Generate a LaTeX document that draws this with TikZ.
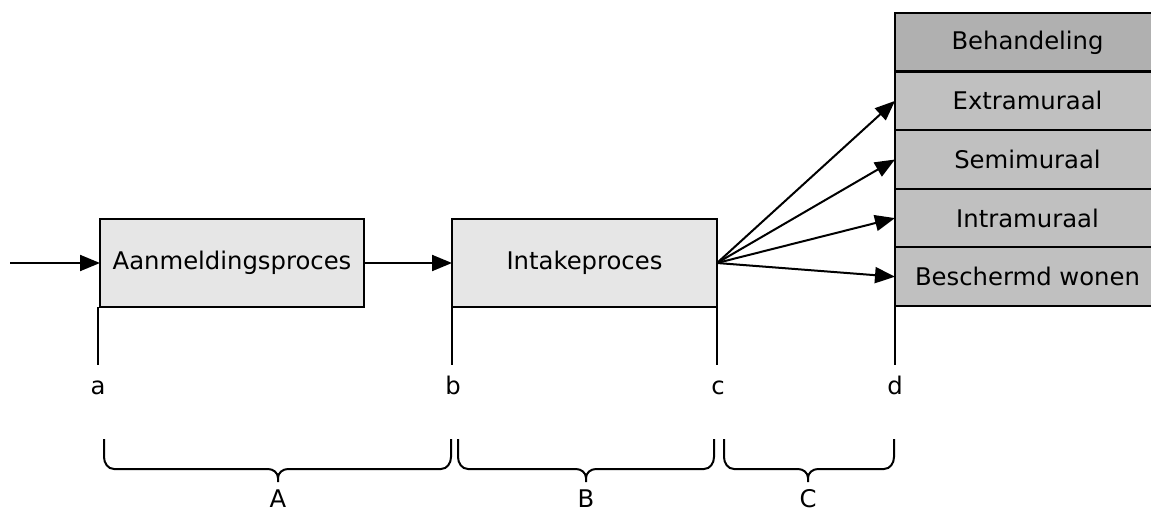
\documentclass[tikz,border=0pt]{standalone}
\usepackage{fontspec}
\setmainfont{DejaVu Sans}
\usetikzlibrary{arrows.meta}
\definecolor{procfill}{HTML}{E6E6E6}
\definecolor{optfill}{HTML}{C0C0C0}
\definecolor{headfill}{HTML}{B0B0B0}
\tikzset{
  procbox/.style={draw=black, line width=2pt, fill=procfill, inner sep=0pt, outer sep=0pt,
    minimum height=88pt, font=\fontsize{24.3}{29}\selectfont},
  optbox/.style={draw=black, line width=2pt, fill=optfill, inner sep=0pt, outer sep=0pt,
    minimum width=265pt, minimum height=58.6pt, font=\fontsize{24.3}{29}\selectfont},
  conn/.style={line width=2pt, -{Triangle[length=20pt,width=16pt]}},
  tick/.style={line width=2pt},
  lbl/.style={anchor=base, inner sep=0pt, font=\fontsize{24.3}{29}\selectfont},
  bracestyle/.style={line width=2pt, line join=round}
}
\newcommand\mybrace[3]{%
  \draw[bracestyle] (#1,439) -- (#1,457) to[out=-90,in=180] ({#1+10},469) -- ({#3-10},469)
    to[out=0,in=90] (#3,478) -- (#3,482) (#3,478) to[out=90,in=180] ({#3+10},469) -- ({#2-10},469)
    to[out=0,in=-90] (#2,457) -- (#2,439);}
\begin{document}
\begin{tikzpicture}[x=1pt,y=-1pt]
\useasboundingbox (0,0) rectangle (1151,513);

% process boxes
\node[procbox, minimum width=264pt] (aan) at (232,263) {Aanmeldingsproces};
\node[procbox, minimum width=265pt] (intake) at (584.5,263) {Intakeproces};

% treatment column
\node[optbox, fill=headfill] (beh) at (1027.5,42.3) {Behandeling};
\node[optbox] (extra) at (1027.5,100.9) {Extramuraal};
\node[optbox] (semi) at (1027.5,159.5) {Semimuraal};
\node[optbox] (intra) at (1027.5,218.1) {Intramuraal};
\node[optbox] (besch) at (1027.5,276.7) {Beschermd wonen};
\draw[line width=3.5pt] (beh.south west) -- (beh.south east);

% connectors
\coordinate (start) at (10,263);
\draw[conn] (start) -- (aan.west);
\draw[conn] (aan.east) -- (intake.west);
\draw[conn] (intake.east) -- (extra.west);
\draw[conn] (intake.east) -- (semi.west);
\draw[conn] (intake.east) -- (intra.west);
\draw[conn] (intake.east) -- (besch.west);

% tick lines
\coordinate (ta) at (98,365);
\coordinate (tb) at (452,365);
\coordinate (tc) at (717,365);
\coordinate (td) at (895,365);
\draw[tick] (98,307) -- (ta);
\draw[tick] (intake.south west) -- (tb);
\draw[tick] (intake.south east) -- (tc);
\draw[tick] (besch.south west) -- (td);

% point labels
\node[lbl] (la) at (98,394) {a};
\node[lbl] (lb) at (453,394) {b};
\node[lbl] (lc) at (718,394) {c};
\node[lbl] (ld) at (895,394) {d};

% braces
\mybrace{104}{451}{278}
\mybrace{458}{714}{586}
\mybrace{724}{894}{808}
\node[lbl] (bA) at (278,507) {A};
\node[lbl] (bB) at (586,507) {B};
\node[lbl] (bC) at (808,507) {C};
\end{tikzpicture}
\end{document}
